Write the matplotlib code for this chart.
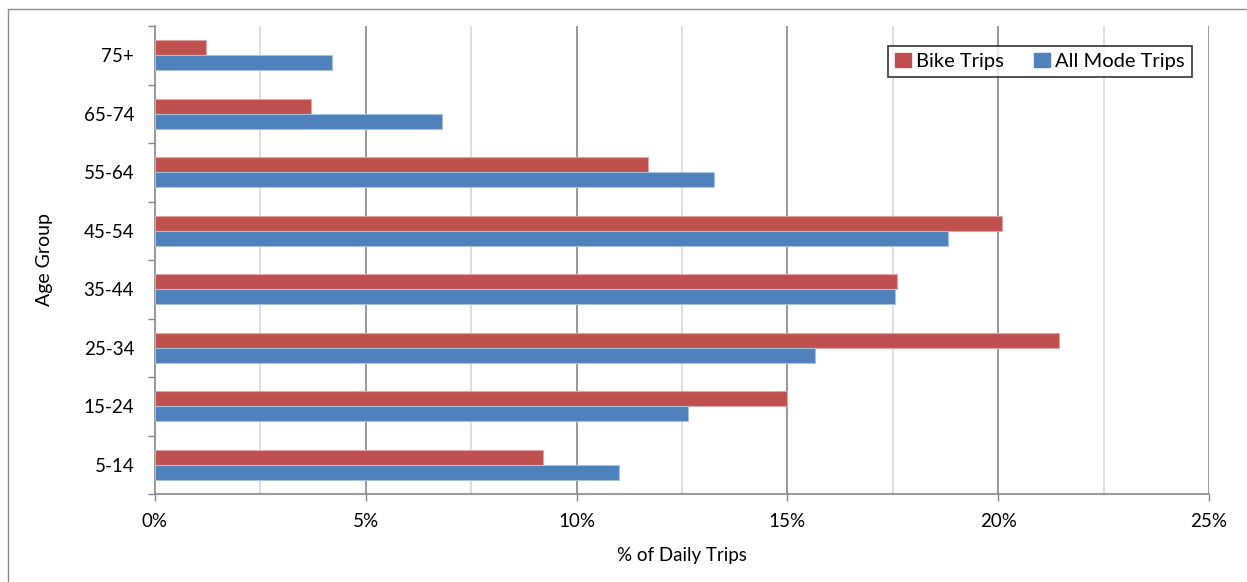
import matplotlib
matplotlib.use("Agg")
import matplotlib.pyplot as plt
from matplotlib.patches import Rectangle, Patch
from matplotlib.ticker import FixedLocator, FuncFormatter
import numpy as np

plt.rcParams['font.family'] = ['Lato', 'DejaVu Sans']

age_groups = ["5-14", "15-24", "25-34", "35-44", "45-54", "55-64", "65-74", "75+"]
bike_trips = [9.2, 15.0, 21.45, 17.6, 20.1, 11.7, 3.7, 1.2]
all_mode_trips = [11.0, 12.65, 15.65, 17.55, 18.8, 13.25, 6.8, 4.2]
x_ticks = [0, 5, 10, 15, 20, 25]

RED = "#C0504D"
BLUE = "#4F81BD"

W, H = 1247, 582
fig = plt.figure(figsize=(W / 100, H / 100), dpi=100)
fig.patch.set_facecolor("white")

# chart area frame
fig.patches.append(Rectangle((7.5 / W, -0.1), 1.2, 1.1 - 8.5 / H,
                             transform=fig.transFigure, fill=False,
                             edgecolor="#8c8c8c", linewidth=1.0))

ax = fig.add_axes([155 / W, 1 - 494 / H, (1209 - 155) / W, (494 - 26) / H])

y = np.arange(len(age_groups))
bh = 0.26
ax.barh(y + bh / 2, bike_trips, height=bh, color=RED,
        edgecolor="#dba7a6", linewidth=0.8, label="Bike Trips", zorder=3)
ax.barh(y - bh / 2, all_mode_trips, height=bh, color=BLUE,
        edgecolor="#a7c0de", linewidth=0.8, label="All Mode Trips", zorder=3)

ax.set_xlim(0, 25)
ax.set_ylim(-0.5, len(age_groups) - 0.5)

# gridlines: darker at every 5%, light in between
for v in np.arange(2.5, 25.1, 5):
    ax.axvline(v, color="#d9d9d9", linewidth=1.2, zorder=1)
for v in x_ticks[1:]:
    ax.axvline(v, color="#868686", linewidth=1.2, zorder=1)

ax.xaxis.set_major_locator(FixedLocator(x_ticks))
ax.xaxis.set_major_formatter(FuncFormatter(lambda v, p: f"{v:.0f}%"))
ax.tick_params(axis="x", length=5, width=1, color="#868686",
               labelsize=13.5, pad=9, labelcolor="black")

ax.set_yticks(y)
ax.set_yticklabels(age_groups)
ax.set_yticks(np.arange(-0.5, len(age_groups)), minor=True)
ax.tick_params(axis="y", which="major", length=0, labelsize=13.5, pad=15)
ax.tick_params(axis="y", which="minor", length=5, width=1, color="#868686")

for s in ("top", "right"):
    ax.spines[s].set_visible(False)
for s in ("left", "bottom"):
    ax.spines[s].set_color("#868686")
    ax.spines[s].set_linewidth(1.2)

ax.set_xlabel("% of Daily Trips", fontsize=13.5, labelpad=12)
ax.set_ylabel("Age Group", fontsize=14, labelpad=22)

handles = [Patch(facecolor=RED, edgecolor=RED),
           Patch(facecolor=BLUE, edgecolor=BLUE)]
leg = fig.legend(handles, ["Bike Trips", "All Mode Trips"], ncol=2,
                 loc="upper right", bbox_to_anchor=(1192 / W, 1 - 45.5 / H),
                 bbox_transform=fig.transFigure, fontsize=14.5,
                 frameon=True, fancybox=False, edgecolor="black",
                 borderaxespad=0, handlelength=0.8, handleheight=0.7,
                 handletextpad=0.25, columnspacing=1.5,
                 borderpad=0.35)
leg.get_frame().set_linewidth(1.2)

fig.canvas.draw()
# extra room inside the legend box on the left and at the bottom
frame = leg.get_frame()
bb = frame.get_bbox()
frame.set_bounds(bb.x0 - 12, bb.y0 - 4, bb.width + 12, bb.height + 4)

fig.savefig("out.png", dpi=100)
